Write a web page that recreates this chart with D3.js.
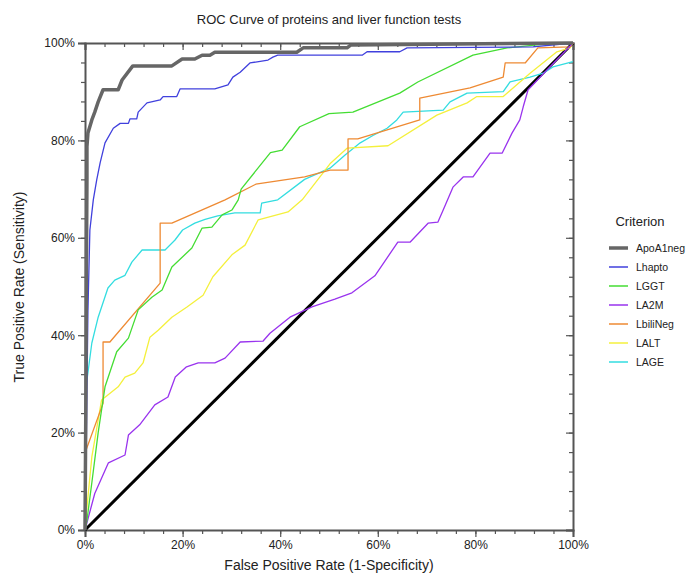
<!DOCTYPE html>
<html>
<head>
<meta charset="utf-8">
<script src="https://cdn.jsdelivr.net/npm/d3@7"></script>
<style>
  body { margin: 0; background: #fff; }
  text { font-family: "Liberation Sans", Arial, sans-serif; fill: #222; }
</style>
</head>
<body>
<svg id="chart" width="686" height="582"></svg>
<script>
var seriesNames = ["ApoA1neg", "Lhapto", "LGGT", "LA2M", "LbiliNeg", "LALT", "LAGE"];
var seriesColors = ["#666666", "#4040dd", "#44dd33", "#9933ee", "#ee8a33", "#f4f03c", "#33dde0"];
var tickLabels = ["0%", "20%", "40%", "60%", "80%", "100%"];

// [fpr, tpr] pairs
var apoA1neg = [[0,0],[0.002,0.3],[0.003,0.55],[0.004,0.72],[0.004,0.787],[0.006,0.815],[0.014,0.842],[0.02,0.858],[0.027,0.879],[0.037,0.904],[0.068,0.904],[0.076,0.924],[0.098,0.953],[0.178,0.953],[0.199,0.967],[0.225,0.967],[0.24,0.975],[0.256,0.975],[0.266,0.981],[0.434,0.981],[0.447,0.99],[0.537,0.99],[0.545,0.996],[1,1]];
var lhapto = [[0,0],[0.003,0.2],[0.006,0.45],[0.01,0.616],[0.017,0.678],[0.024,0.719],[0.031,0.754],[0.041,0.795],[0.058,0.825],[0.072,0.835],[0.089,0.835],[0.092,0.844],[0.106,0.844],[0.109,0.858],[0.127,0.877],[0.154,0.883],[0.16,0.89],[0.188,0.89],[0.195,0.906],[0.266,0.906],[0.293,0.914],[0.303,0.93],[0.318,0.94],[0.338,0.959],[0.375,0.965],[0.385,0.971],[0.395,0.975],[0.568,0.975],[0.578,0.982],[0.645,0.982],[0.66,0.99],[0.918,0.992],[1,1]];
var lggt = [[0,0],[0.004,0.02],[0.014,0.097],[0.027,0.2],[0.041,0.294],[0.065,0.366],[0.089,0.394],[0.109,0.452],[0.137,0.478],[0.158,0.493],[0.178,0.54],[0.219,0.579],[0.24,0.62],[0.26,0.622],[0.281,0.647],[0.301,0.657],[0.314,0.678],[0.32,0.70],[0.38,0.775],[0.404,0.78],[0.44,0.828],[0.50,0.855],[0.549,0.858],[0.645,0.897],[0.682,0.92],[0.795,0.975],[0.865,0.99],[0.926,0.996],[1,1]];
var la2m = [[0,0],[0.02,0.075],[0.048,0.138],[0.082,0.154],[0.089,0.195],[0.112,0.216],[0.143,0.257],[0.17,0.273],[0.185,0.314],[0.208,0.335],[0.232,0.343],[0.266,0.343],[0.287,0.353],[0.318,0.386],[0.365,0.388],[0.379,0.404],[0.42,0.437],[0.465,0.458],[0.512,0.474],[0.547,0.487],[0.594,0.522],[0.641,0.591],[0.666,0.591],[0.703,0.63],[0.723,0.632],[0.734,0.657],[0.754,0.704],[0.775,0.725],[0.795,0.725],[0.83,0.774],[0.855,0.774],[0.875,0.815],[0.891,0.842],[0.898,0.869],[0.908,0.904],[0.95,0.948],[1,1]];
var lbiliNeg = [[0,0],[0,0.158],[0.037,0.26],[0.037,0.386],[0.051,0.386],[0.154,0.507],[0.154,0.63],[0.178,0.63],[0.287,0.678],[0.35,0.71],[0.45,0.725],[0.502,0.739],[0.539,0.739],[0.539,0.803],[0.559,0.803],[0.686,0.842],[0.686,0.887],[0.789,0.908],[0.857,0.93],[0.861,0.959],[0.902,0.959],[0.928,0.99],[0.994,0.992],[1,1]];
var lalt = [[0,0],[0,0.006],[0.014,0.15],[0.034,0.267],[0.068,0.294],[0.082,0.314],[0.102,0.322],[0.119,0.343],[0.133,0.396],[0.15,0.41],[0.178,0.437],[0.209,0.458],[0.242,0.482],[0.262,0.52],[0.301,0.565],[0.328,0.585],[0.355,0.637],[0.416,0.653],[0.445,0.678],[0.502,0.752],[0.537,0.784],[0.621,0.789],[0.721,0.852],[0.783,0.877],[0.803,0.89],[0.857,0.89],[0.912,0.938],[0.967,0.982],[0.994,0.99],[1,1]];
var lage = [[0,0],[0.001,0.22],[0.003,0.30],[0.014,0.384],[0.027,0.437],[0.047,0.497],[0.061,0.513],[0.082,0.523],[0.096,0.55],[0.117,0.575],[0.164,0.575],[0.184,0.595],[0.2,0.616],[0.225,0.63],[0.246,0.638],[0.272,0.645],[0.307,0.651],[0.359,0.651],[0.362,0.671],[0.395,0.678],[0.45,0.72],[0.502,0.743],[0.533,0.77],[0.564,0.795],[0.59,0.81],[0.619,0.825],[0.639,0.842],[0.652,0.858],[0.734,0.862],[0.748,0.879],[0.783,0.897],[0.857,0.9],[0.871,0.92],[0.912,0.93],[0.939,0.938],[0.959,0.951],[0.998,0.961],[1,0.962]];
var diagonal = [[0,0],[1,1]];

var allSeries = [apoA1neg, lhapto, lggt, la2m, lbiliNeg, lalt, lage];
var widths = [3.5, 1.3, 1.3, 1.3, 1.3, 1.3, 1.3];

var svg = d3.select("#chart");
var pLeft = 85, pRight = 573, pTop = 43, pBottom = 530;
var x = d3.scaleLinear().domain([0, 1]).range([pLeft, pRight]);
var y = d3.scaleLinear().domain([0, 1]).range([pBottom, pTop]);

var majors = d3.range(0, 1.001, 0.2);
var minors = d3.range(0, 1.001, 0.04);
var fmt = function (d) { return tickLabels[Math.round(d * 5)]; };

function drawAxis(axis, pos, showLabels) {
  var g = svg.append("g").attr("transform", pos);
  g.call(axis(minors).tickSize(4).tickFormat(""));
  g.call(function (s) { s.select(".domain").remove(); });
  var m = svg.append("g").attr("transform", pos);
  m.call(axis(majors).tickSize(7).tickFormat(showLabels ? fmt : ""));
  [g, m].forEach(function (s) {
    s.selectAll("line").attr("stroke", "#555").attr("stroke-width", 1.2);
    s.selectAll(".domain").attr("stroke", "#555").attr("stroke-width", 2);
    s.selectAll("text").style("font-size", "12px").attr("fill", "#222");
  });
}
function ax(gen, scale) { return function (vals) { return gen(scale).tickValues(vals); }; }

drawAxis(ax(d3.axisBottom, x), "translate(0," + pBottom + ")", true);
drawAxis(ax(d3.axisLeft, y), "translate(" + pLeft + ",0)", true);
drawAxis(ax(d3.axisBottom, x), "translate(0," + pTop + ")", false);
drawAxis(ax(d3.axisLeft, y), "translate(" + pRight + ",0)", false);

var line = d3.line().x(function (d) { return x(d[0]); }).y(function (d) { return y(d[1]); });

svg.append("path").datum(diagonal).attr("d", line)
  .attr("fill", "none").attr("stroke", "#000").attr("stroke-width", 3);

allSeries.slice().reverse().forEach(function (s, ri) {
  var i = allSeries.length - 1 - ri;
  svg.append("path").datum(s).attr("d", line)
    .attr("fill", "none").attr("stroke", seriesColors[i])
    .attr("stroke-width", widths[i]).attr("stroke-linejoin", "round");
});

svg.append("text").attr("x", 329).attr("y", 24).attr("text-anchor", "middle")
  .style("font-size", "13px").text("ROC Curve of proteins and liver function tests");
svg.append("text").attr("x", 329).attr("y", 570).attr("text-anchor", "middle")
  .style("font-size", "14px").text("False Positive Rate (1-Specificity)");
svg.append("text").attr("transform", "translate(24,287) rotate(-90)").attr("text-anchor", "middle")
  .style("font-size", "14px").text("True Positive Rate (Sensitivity)");

var legend = svg.append("g");
legend.append("text").attr("x", 640).attr("y", 226).attr("text-anchor", "middle")
  .style("font-size", "13px").text("Criterion");
seriesNames.forEach(function (n, i) {
  var yy = 248 + i * 19;
  legend.append("line").attr("x1", 609).attr("x2", 628).attr("y1", yy).attr("y2", yy)
    .attr("stroke", seriesColors[i]).attr("stroke-width", i === 0 ? 3.5 : 1.5);
  legend.append("text").attr("x", 636).attr("y", yy + 4).style("font-size", "10.5px").text(n);
});
</script>
</body>
</html>
